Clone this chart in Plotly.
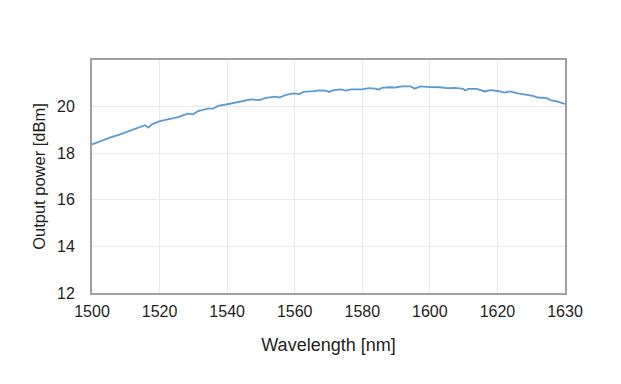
import plotly.graph_objects as go

# Wavelength (axis coordinate, nm) and output power (dBm)
wavelength = [1500.0, 1502.4, 1505.3, 1508.3, 1511.2, 1514.2, 1515.7, 1516.7, 1517.7, 1520.1,
              1522.5, 1525.5, 1528.4, 1529.9, 1531.4, 1534.3, 1535.8, 1537.3, 1539.7, 1542.6,
              1545.6, 1547.1, 1549.5, 1551.5, 1554.5, 1555.4, 1557.4, 1559.8, 1561.3, 1562.7,
              1565.7, 1567.2, 1569.2, 1570.1, 1571.6, 1573.6, 1575.1, 1576.6, 1579.9, 1581.9,
              1583.8, 1584.9, 1585.8, 1587.8, 1589.8, 1591.7, 1594.2, 1595.5, 1597.2, 1599.1,
              1600.0, 1603.0, 1605.0, 1607.4, 1609.9, 1610.4, 1611.4, 1613.9, 1615.3, 1616.3,
              1617.8, 1619.3, 1620.2, 1622.1, 1623.6, 1626.1, 1629.0, 1630.5, 1632.0, 1634.5,
              1635.9, 1637.4, 1639.4, 1640.0]
power = [18.38, 18.52, 18.67, 18.81, 18.95, 19.10, 19.20, 19.10, 19.24, 19.38,
         19.45, 19.55, 19.70, 19.67, 19.81, 19.91, 19.91, 20.03, 20.09, 20.17,
         20.24, 20.31, 20.28, 20.37, 20.43, 20.39, 20.50, 20.57, 20.54, 20.63,
         20.66, 20.70, 20.69, 20.63, 20.71, 20.74, 20.69, 20.74, 20.74, 20.79,
         20.77, 20.73, 20.80, 20.83, 20.82, 20.87, 20.87, 20.77, 20.87, 20.87,
         20.84, 20.83, 20.79, 20.80, 20.76, 20.69, 20.76, 20.76, 20.69, 20.65,
         20.71, 20.69, 20.67, 20.60, 20.65, 20.57, 20.50, 20.46, 20.39, 20.36,
         20.27, 20.23, 20.14, 20.12]

x_tickvals = [1500, 1520, 1540, 1560, 1580, 1600, 1620, 1640]
x_ticktext = ["1500", "1520", "1540", "1560", "1580", "1600", "1620", "1630"]
y_tickvals = [12, 14, 16, 18, 20, 22]
y_ticktext = ["12", "14", "16", "18", "20", ""]

font_family = "Liberation Sans, Arial, Helvetica, sans-serif"
text_color = "#231f20"

fig = go.Figure()
fig.add_trace(go.Scatter(x=wavelength, y=power, mode="lines",
                         line=dict(color="#5b9bd5", width=1.8), showlegend=False))

fig.update_layout(
    width=621, height=384,
    margin=dict(l=84, r=64, t=52, b=99),
    paper_bgcolor="white", plot_bgcolor="white",
    font=dict(family=font_family, color=text_color, size=16),
    xaxis=dict(range=[1500, 1640], tickvals=x_tickvals, ticktext=x_ticktext,
               showgrid=True, gridcolor="#e9e9e9", gridwidth=1,
               showline=True, linecolor="#a0a0a0", linewidth=2, mirror=True,
               ticks="", ticklabelstandoff=3, zeroline=False,
               title=dict(text="Wavelength [nm]", font=dict(size=18), standoff=19)),
    yaxis=dict(range=[12, 22], tickvals=y_tickvals, ticktext=y_ticktext,
               showgrid=True, gridcolor="#e9e9e9", gridwidth=1,
               showline=True, linecolor="#a0a0a0", linewidth=2, mirror=True,
               ticks="", ticklabelstandoff=12, zeroline=False,
               title=dict(text="Output power [dBm]", font=dict(size=16.5), standoff=7)),
)

fig.write_html("out.html")
